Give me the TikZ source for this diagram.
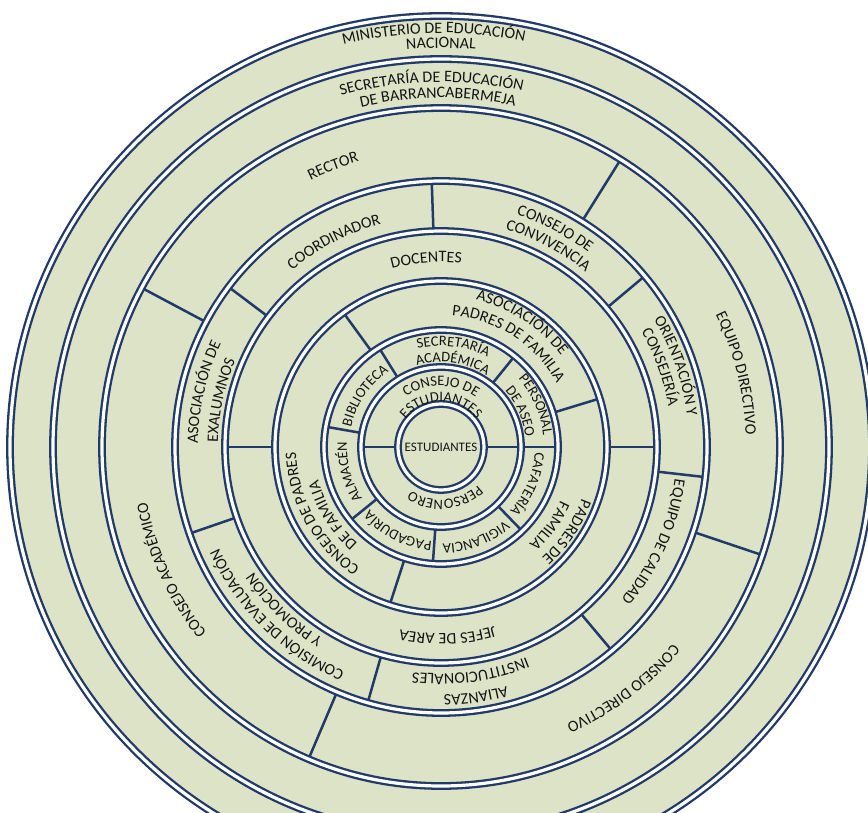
\documentclass[tikz,border=0pt]{standalone}
\usepackage{fontspec}
\setmainfont{Carlito}
\usetikzlibrary{decorations.text}
\definecolor{ringblue}{RGB}{34,58,104}
\definecolor{ringfill}{RGB}{221,227,199}
\definecolor{labelgray}{RGB}{20,20,20}
\newcommand{\lblfont}{\fontsize{16}{16}\selectfont}
\newcommand{\smlfont}{\fontsize{14.5}{14.5}\selectfont}
\newcommand{\ringlabel}[4][\lblfont]{%
  \path[decorate,decoration={text along path,text align=center,text color=labelgray,text={|#1|#4}}]
    (#2+85:#3) arc[start angle=#2+85,end angle=#2-85,radius=#3];}
\newcommand{\divider}[3]{\draw[divline] (#1:#2) -- (#1:#3);}

\begin{document}
\begin{tikzpicture}[x=1pt,y=1pt,
  ringline/.style={draw=ringblue,line width=2.3pt,double=white,double distance=3.2pt},
  divline/.style={draw=ringblue,line width=2.5pt}]
\useasboundingbox (-441,-365) rectangle (427,447);
\clip (-441,-365) rectangle (427,447);
\fill[white] (-441,-365) rectangle (427,447);
\coordinate (c) at (0,0);
\fill[ringfill] (c) circle[radius=431];

\divider{0}{43}{80}
\divider{180}{43}{80}

\divider{122}{80}{117}
\divider{51}{80}{117}
\divider{0}{80}{117}
\divider{-46}{80}{117}
\divider{266}{80}{117}
\divider{219}{80}{117}
\divider{170}{80}{117}

\divider{17}{117}{166}
\divider{126}{117}{166}
\divider{252}{117}{166}

\divider{0}{166}{216}
\divider{180}{166}{216}

\divider{92}{216}{266}
\divider{40}{216}{266}
\divider{-6.5}{216}{266}
\divider{-50}{216}{266}
\divider{254}{216}{266}
\divider{199}{216}{266}
\divider{143}{216}{266}

\divider{58}{266}{339}
\divider{-18.6}{266}{339}
\divider{247}{266}{339}
\divider{152}{266}{339}

\draw[ringline] (c) circle[radius=43];
\draw[ringline] (c) circle[radius=80];
\draw[ringline] (c) circle[radius=117];
\draw[ringline] (c) circle[radius=166];
\draw[ringline] (c) circle[radius=216];
\draw[ringline] (c) circle[radius=266];
\draw[ringline] (c) circle[radius=339];
\draw[ringline] (c) circle[radius=388];
\draw[ringline] (c) circle[radius=431];

\ringlabel{91}{414}{MINISTERIO DE EDUCACIÓN}
\ringlabel{90}{399}{NACIONAL}
\ringlabel{91.5}{365}{SECRETARÍA DE EDUCACIÓN}
\ringlabel{90.5}{349}{DE BARRANCABERMEJA}

\ringlabel{111}{297}{RECTOR}
\ringlabel{14}{305}{EQUIPO DIRECTIVO}
\ringlabel{-53}{304}{CONSEJO DIRECTIVO}
\ringlabel{204.5}{299}{CONSEJO ACADÉMICO}

\ringlabel{117.5}{231}{COORDINADOR}
\ringlabel{62.4}{244}{CONSEJO DE}
\ringlabel{62}{227}{CONVIVENCIA}
\ringlabel{19}{248}{ORIENTACIÓN Y}
\ringlabel{20}{231}{CONSEJERÍA}
\ringlabel{-24}{236}{EQUIPO DE CALIDAD}
\ringlabel{-82}{248}{ALIANZAS}
\ringlabel{-82.5}{227}{INSTITUCIONALES}
\ringlabel{225.6}{244}{COMISIÓN DE EVALUACIÓN}
\ringlabel{226}{225}{Y PROMOCIÓN}
\ringlabel{167}{243}{ASOCIACIÓN DE}
\ringlabel{168}{223}{EXALUMNOS}

\ringlabel{94.5}{185}{DOCENTES}
\ringlabel{-88}{187}{JEFES DE AREA}

\ringlabel{57}{151}{ASOCIACIÓN DE}
\ringlabel{57}{132}{PADRES DE FAMILIA}
\ringlabel{-34}{150}{PADRES DE}
\ringlabel{-36}{131}{FAMILIA}
\ringlabel{209}{145}{CONSEJO DE PADRES}
\ringlabel{212}{127}{DE FAMILIA}

\ringlabel[\smlfont]{146}{92}{BIBLIOTECA}
\ringlabel[\smlfont]{83}{101}{SECRETARÍA}
\ringlabel[\smlfont]{82}{85}{ACADÉMICA}
\ringlabel[\smlfont]{24}{103}{PERSONAL}
\ringlabel[\smlfont]{24}{85}{DE ASEO}
\ringlabel[\smlfont]{-23}{94}{CAFATERÍA}
\ringlabel[\smlfont]{-69}{97}{VIGILANCIA}
\ringlabel[\smlfont]{243}{95}{PAGADURÍA}
\ringlabel[\smlfont]{195}{94}{ALMACÉN}

\ringlabel[\smlfont]{90}{61}{CONSEJO DE}
\ringlabel[\smlfont]{90}{45}{ESTUDIANTES}
\ringlabel[\smlfont]{-85}{53}{PERSONERO}

\node[font=\fontsize{13}{13}\selectfont,text=labelgray] (estudiantes) at (c) {ESTUDIANTES};
\end{tikzpicture}
\end{document}
